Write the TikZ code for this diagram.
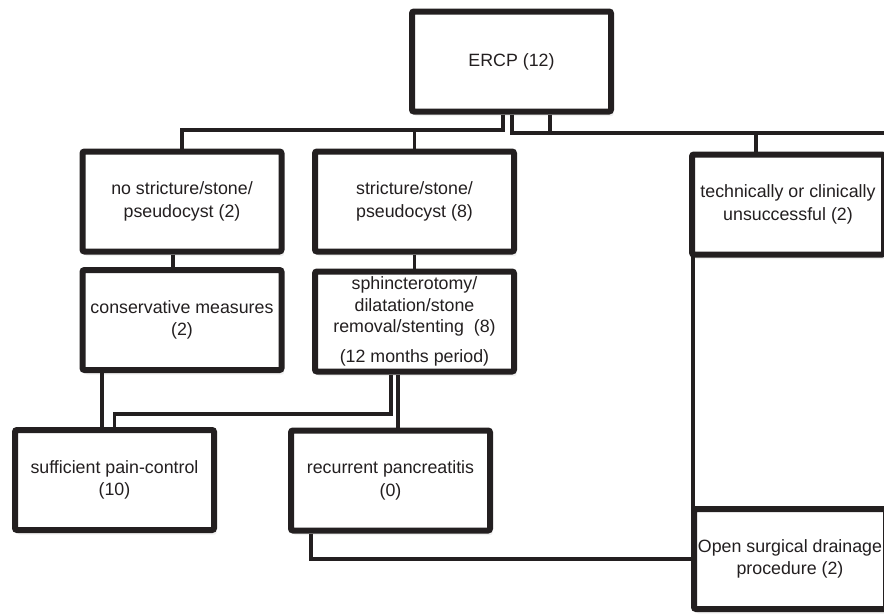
\documentclass[tikz,border=0pt]{standalone}
\usepackage{fontspec}
\setmainfont{Liberation Sans}
\usetikzlibrary{calc,shadows}
\definecolor{inkgray}{RGB}{35,31,32}

\begin{document}
\begin{tikzpicture}[x=1pt,y=-1pt,
    box/.style={draw=inkgray,line width=6pt,fill=white,rounded corners=2pt,
        minimum width=199pt,minimum height=100pt,align=center,inner sep=2pt,
        text=inkgray,font=\fontsize{17.8}{22.7}\selectfont,
        drop shadow={shadow xshift=2.5pt,shadow yshift=-4.5pt,opacity=0.12}},
    link/.style={draw=inkgray,line width=3.5pt}]
    % Frame
    \useasboundingbox (0,0) rectangle (884,614);
    \clip (0,0) rectangle (884,614);

    % Boxes
    \node[box] (ercp) at (511.5,61.5) {ERCP (12)};
    \node[box] (nostr) at (182,201.5) {no stricture/stone/\\pseudocyst (2)};
    \node[box] (str) at (414.5,201.5) {stricture/stone/\\pseudocyst (8)};
    \node[box,minimum width=192pt] (tech) at (788,204.5) {technically or clinically\\unsuccessful (2)};
    \node[box] (cons) at (182,320) {conservative measures\\(2)};
    \node[box,font=\fontsize{17.8}{21.5}\selectfont] (sphinc) at (414.5,321.5) {sphincterotomy/\\dilatation/stone\\removal/stenting\ \ (8)\\[8pt](12 months period)};
    \node[box] (suff) at (114.5,480) {sufficient pain-control\\(10)};
    \node[box] (recur) at (390.5,480.5) {recurrent pancreatitis\\(0)};
    \node[box,minimum width=192pt] (open) at (790,559) {Open surgical drainage\\procedure (2)};

    % Junction levels
    \coordinate (jl) at (0,130);
    \coordinate (jr) at (0,133);
    \coordinate (redge) at (890,133);

    % ERCP split
    \draw[link] ([xshift=-8.5pt]ercp.south) |- (nostr.north |- jl) -- (nostr.north);
    \draw[link] (str.north |- jl) -- (str.north);
    \draw[link] ([xshift=0.5pt]ercp.south) |- (redge);
    \coordinate (e3) at ([xshift=38.5pt]ercp.south);
    \draw[link] (e3) -- (e3 |- jr);
    \coordinate (t1) at ([xshift=-32pt]tech.north);
    \draw[link] (t1 |- jr) -- (t1);

    % Second row
    \coordinate (n1) at ([xshift=-9pt]nostr.south);
    \draw[link] (n1) -- (n1 |- cons.north);
    \draw[link] (str.south) -- (sphinc.north);

    % Outcomes
    \coordinate (c1) at ([xshift=-80pt]cons.south);
    \draw[link] (c1) -- (c1 |- suff.north);
    \draw[link] ([xshift=-23.5pt]sphinc.south) |- ($(suff.north)+(0,-13)$) -- (suff.north);
    \coordinate (s2) at ([xshift=-16.5pt]sphinc.south);
    \draw[link] (s2) -- (s2 |- recur.north);
    \draw[link] ([xshift=-79.5pt]recur.south) |- (open.west);
    \coordinate (t2) at ([xshift=4pt,yshift=6pt]tech.south west);
    \draw[link] (t2) -- ($(t2 |- open.north)+(0,6)$);
\end{tikzpicture}
\end{document}
